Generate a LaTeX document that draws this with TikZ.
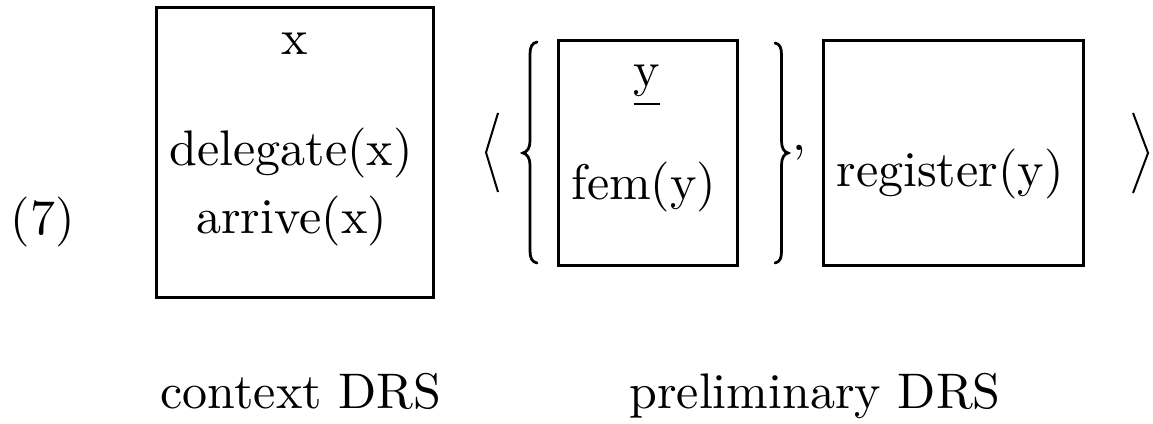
\documentclass[tikz,border=0pt]{standalone}
\begin{document}
\begin{tikzpicture}[x=0.2pt,y=-0.2pt,
  txt/.style={anchor=base,inner sep=0pt,outer sep=0pt,font=\fontsize{10}{12}\selectfont},
  drsbox/.style={draw,line width=0.6pt,inner sep=0pt,outer sep=0pt},
  brk/.style={line width=0.4pt,line join=miter},
  brc/.style={line width=0.55pt,line cap=round}]
\useasboundingbox (0,0) rectangle (1153,424);
% example number
\node[txt] (num) at (42.5,235) {(7)};
% context DRS box
\node[drsbox,minimum width=55.4pt,minimum height=57.8pt] (ctx) at (294.5,152.5) {};
\node[txt] (ctxu) at (295,55) {x};
\node[txt] (ctxc1) at (291,166) {delegate(x)};
\node[txt] (ctxc2) at (291.5,234) {arrive(x)};
% left angle bracket
\coordinate (la1) at (498,113);
\coordinate (la2) at (486,152.5);
\coordinate (la3) at (498,192);
\draw[brk] (la1) -- (la2) -- (la3);
% left brace
\draw[brc] (537,42) .. controls (532,43) and (530,47) .. (530,54) -- (530,141)
  .. controls (530,148) and (527,152) .. (523,153)
  .. controls (527,154) and (530,158) .. (530,165) -- (530,251)
  .. controls (530,258) and (532,262) .. (537,263);
% fem box
\node[drsbox,minimum width=35.8pt,minimum height=44.8pt] (fem) at (647.5,153) {};
\node[txt] (femu) at (647,87) {\underline{y}};
\node[txt] (femc) at (644,200) {fem(y)};
% right brace
\draw[brc] (775,43) .. controls (780,44) and (781.5,48) .. (781.5,55) -- (781.5,141)
  .. controls (781.5,148) and (784,152) .. (788,153)
  .. controls (784,154) and (781.5,158) .. (781.5,165) -- (781.5,251)
  .. controls (781.5,258) and (780,262) .. (775,263);
\node[txt] (comma) at (799,151) {,};
% register box
\node[drsbox,minimum width=52pt,minimum height=44.8pt] (reg) at (953,153) {};
\node[txt] (regc) at (950,187) {register(y)};
% right angle bracket
\coordinate (ra1) at (1133,113);
\coordinate (ra2) at (1148,153);
\coordinate (ra3) at (1133,193);
\draw[brk] (ra1) -- (ra2) -- (ra3);
% captions
\node[txt] (cap1) at (301,408) {context DRS};
\node[txt] (cap2) at (815,408) {preliminary DRS};
\end{tikzpicture}
\end{document}
